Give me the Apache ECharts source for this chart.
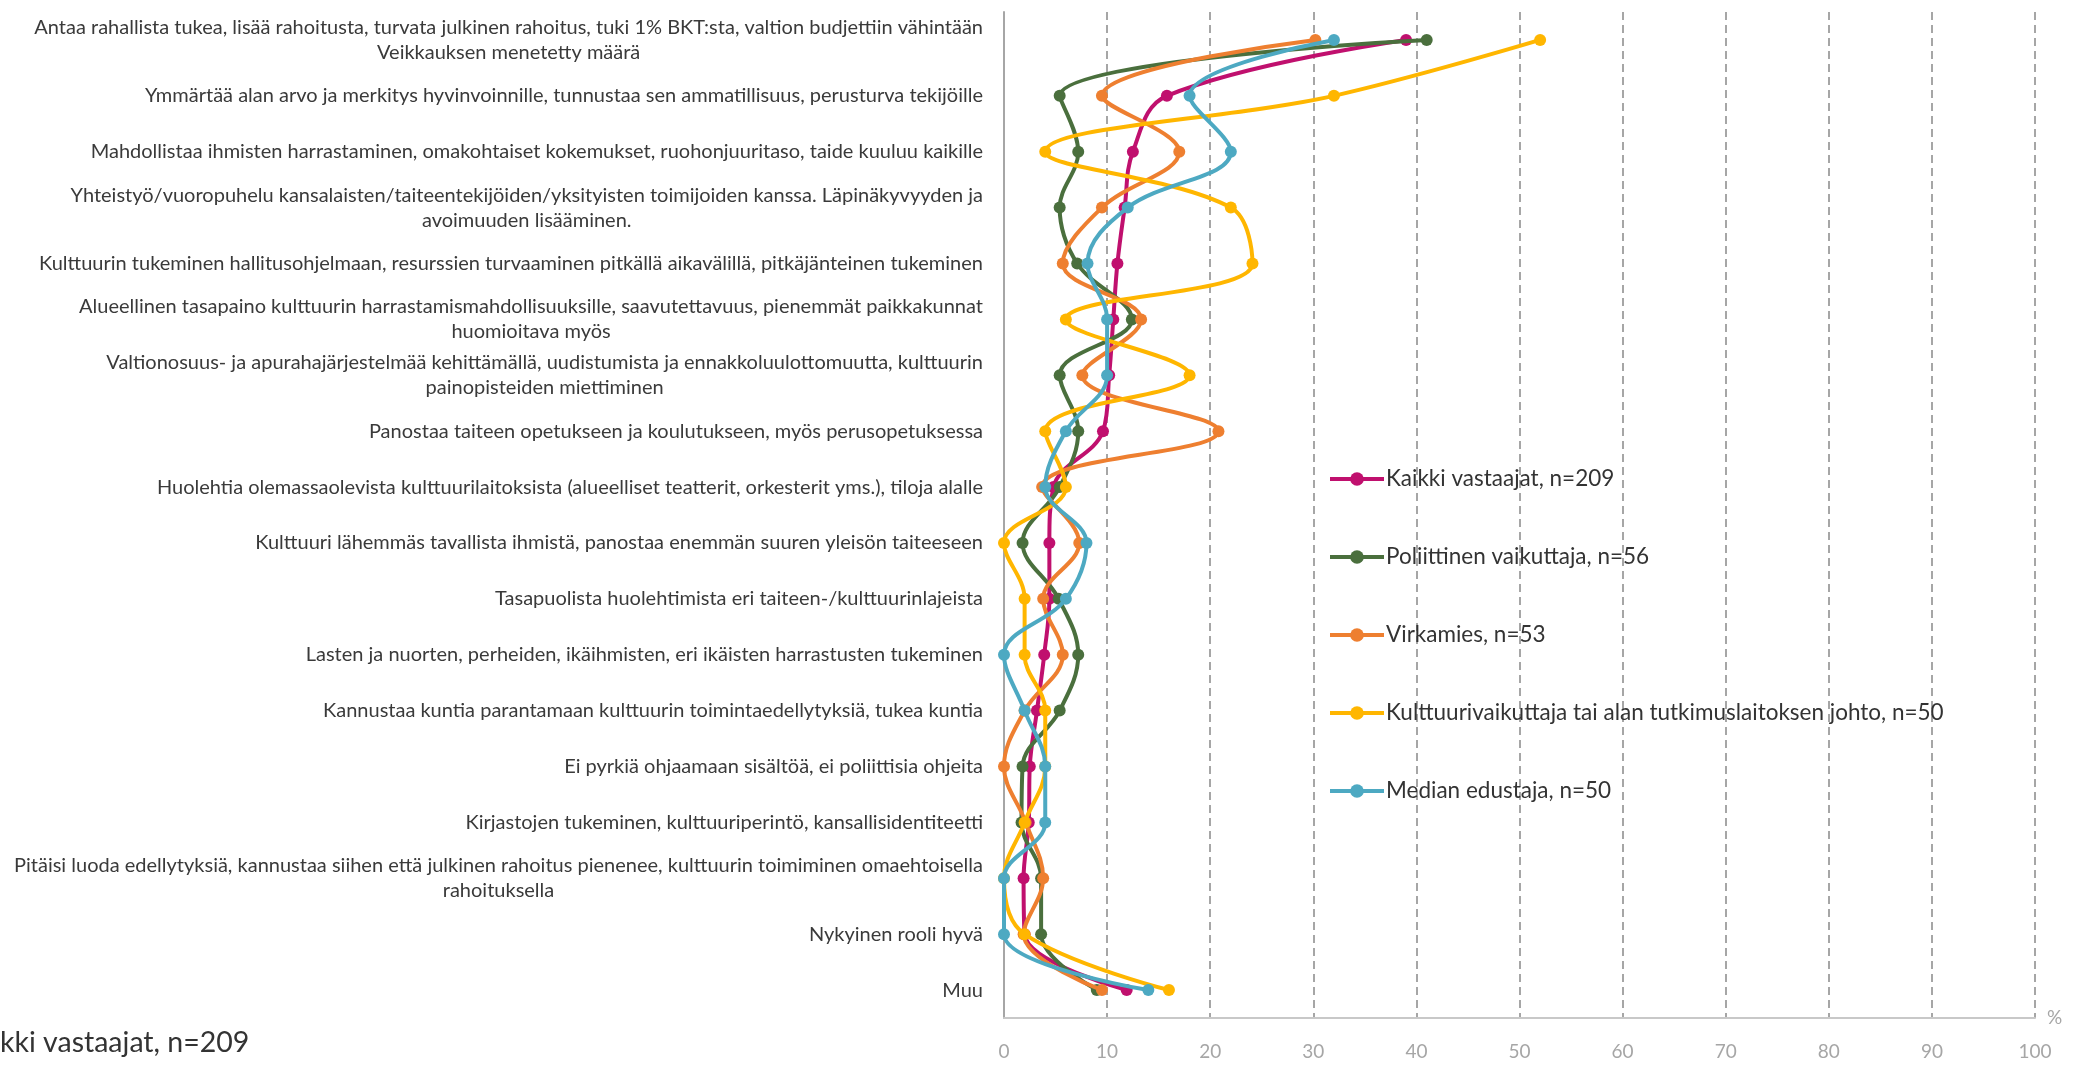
<!DOCTYPE html>
<html>
<head>
<meta charset="utf-8">
<script src="https://cdn.jsdelivr.net/npm/echarts@6/dist/echarts.min.js"></script>
<style>
html,body{margin:0;padding:0;background:#fff;}
#chart{width:2074px;height:1066px;}
</style>
</head>
<body>
<div id="chart"></div>
<script>
const categories = [
  "Antaa rahallista tukea, lisää rahoitusta, turvata julkinen rahoitus, tuki 1% BKT:sta, valtion budjettiin vähintään\nVeikkauksen menetetty määrä",
  "Ymmärtää alan arvo ja merkitys hyvinvoinnille, tunnustaa sen ammatillisuus, perusturva tekijöille",
  "Mahdollistaa ihmisten harrastaminen, omakohtaiset kokemukset, ruohonjuuritaso, taide kuuluu kaikille",
  "Yhteistyö/vuoropuhelu kansalaisten/taiteentekijöiden/yksityisten toimijoiden kanssa. Läpinäkyvyyden ja\navoimuuden lisääminen.",
  "Kulttuurin tukeminen hallitusohjelmaan, resurssien turvaaminen pitkällä aikavälillä, pitkäjänteinen tukeminen",
  "Alueellinen tasapaino kulttuurin harrastamismahdollisuuksille, saavutettavuus, pienemmät paikkakunnat\nhuomioitava myös",
  "Valtionosuus- ja apurahajärjestelmää kehittämällä, uudistumista ja ennakkoluulottomuutta, kulttuurin\npainopisteiden miettiminen",
  "Panostaa taiteen opetukseen ja koulutukseen, myös perusopetuksessa",
  "Huolehtia olemassaolevista kulttuurilaitoksista (alueelliset teatterit, orkesterit yms.), tiloja alalle",
  "Kulttuuri lähemmäs tavallista ihmistä, panostaa enemmän suuren yleisön taiteeseen",
  "Tasapuolista huolehtimista eri taiteen-/kulttuurinlajeista",
  "Lasten ja nuorten, perheiden, ikäihmisten, eri ikäisten harrastusten tukeminen",
  "Kannustaa kuntia parantamaan kulttuurin toimintaedellytyksiä, tukea kuntia",
  "Ei pyrkiä ohjaamaan sisältöä, ei poliittisia ohjeita",
  "Kirjastojen tukeminen, kulttuuriperintö, kansallisidentiteetti",
  "Pitäisi luoda edellytyksiä, kannustaa siihen että julkinen rahoitus pienenee, kulttuurin toimiminen omaehtoisella\nrahoituksella",
  "Nykyinen rooli hyvä",
  "Muu"
];

const seriesNames = [
  "Kaikki vastaajat, n=209",
  "Poliittinen vaikuttaja, n=56",
  "Virkamies, n=53",
  "Kulttuurivaikuttaja tai alan tutkimuslaitoksen johto, n=50",
  "Median edustaja, n=50"
];

const kaikki      = [39, 15.8, 12.5, 11.7, 11, 10.6, 10.2, 9.6, 4.8, 4.4, 4.4, 3.9, 3.2, 2.5, 2.4, 1.9, 2, 11.9];
const poliittinen = [41, 5.4, 7.2, 5.4, 7.1, 12.4, 5.4, 7.2, 5.4, 1.8, 5.3, 7.2, 5.4, 1.8, 1.7, 3.6, 3.6, 9];
const virkamies   = [30.2, 9.5, 17, 9.5, 5.7, 13.3, 7.6, 20.8, 3.7, 7.3, 3.8, 5.7, 2, 0, 2.1, 3.8, 1.9, 9.5];
const kulttuuri   = [52, 32, 4, 22, 24.1, 6, 18, 4, 6, 0, 2, 2, 4, 4, 2, 0, 2, 16];
const media       = [32, 18, 22, 12, 8.1, 10, 10, 6, 4, 8, 6, 0, 2, 4, 4, 0, 0, 14];

const xTicks = ["0","10","20","30","40","50","60","70","80","90","100"];

const seriesData = [kaikki, poliittinen, virkamies, kulttuuri, media];
const colors = ["#C0106E", "#4A6F3D", "#EE7F30", "#FFB600", "#4DA9C2"];

const FONT = "Lato";
const LABEL_SIZE = 20;

const chart = echarts.init(document.getElementById('chart'), null, {renderer: 'canvas'});

const option = {
  backgroundColor: '#ffffff',
  animation: false,
  color: colors,
  grid: {left: 1004, right: 39, top: 12, bottom: 48, containLabel: false},
  legend: {
    orient: 'vertical',
    left: 1323,
    top: 462,
    itemWidth: 54,
    itemHeight: 17,
    itemGap: 54,
    data: seriesNames,
    lineStyle: {width: 4},
    textStyle: {fontFamily: FONT, fontSize: 22.5, color: '#333333', lineHeight: 24, padding: [0,0,0,-3]}
  },
  xAxis: {
    type: 'value',
    min: 0, max: 100, interval: 10,
    name: '%',
    nameLocation: 'end',
    nameGap: 12,
    nameTextStyle: {fontFamily: FONT, fontSize: 19, color: '#a6a6a6', verticalAlign: 'middle', padding: [0,0,18,0]},
    axisLine: {show: true, lineStyle: {color: '#c8c8c8', width: 2}},
    axisTick: {show: false},
    axisLabel: {
      fontFamily: FONT, fontSize: 19, color: '#a6a6a6', margin: 24,
      formatter: function (v) { return xTicks[Math.round(v / 10)]; }
    },
    splitLine: {show: true, lineStyle: {color: '#a6a6a6', width: 2, type: [8, 5]}}
  },
  yAxis: {
    type: 'category',
    inverse: true,
    data: categories,
    boundaryGap: true,
    axisLine: {show: true, lineStyle: {color: '#a6a6a6', width: 2}},
    axisTick: {show: false},
    splitLine: {show: false},
    axisLabel: {
      margin: 21,
      align: 'right',
      fontFamily: FONT, fontSize: LABEL_SIZE, color: '#3a3a3a', lineHeight: 25,
      formatter: function (v) { return v.split('\n').map(function (s) { return '{c|' + s + '}'; }).join('\n'); },
      rich: {c: {align: 'center', fontFamily: FONT, fontSize: LABEL_SIZE, color: '#3a3a3a', lineHeight: 25}}
    }
  },
  graphic: [{
    type: 'text',
    x: 0,
    y: 1043,
    style: {text: 'kki vastaajat, n=209', fontFamily: FONT, fontSize: 28.5, fill: '#333333', verticalAlign: 'middle'}
  }],
  series: seriesData.map(function (d, i) {
    return {
      name: seriesNames[i],
      type: 'line',
      data: d,
      smooth: 0.38,
      symbol: 'circle',
      symbolSize: 12,
      lineStyle: {width: 4, color: colors[i]},
      itemStyle: {color: colors[i]},
      z: 2 + i
    };
  })
};

chart.setOption(option);
</script>
</body>
</html>
